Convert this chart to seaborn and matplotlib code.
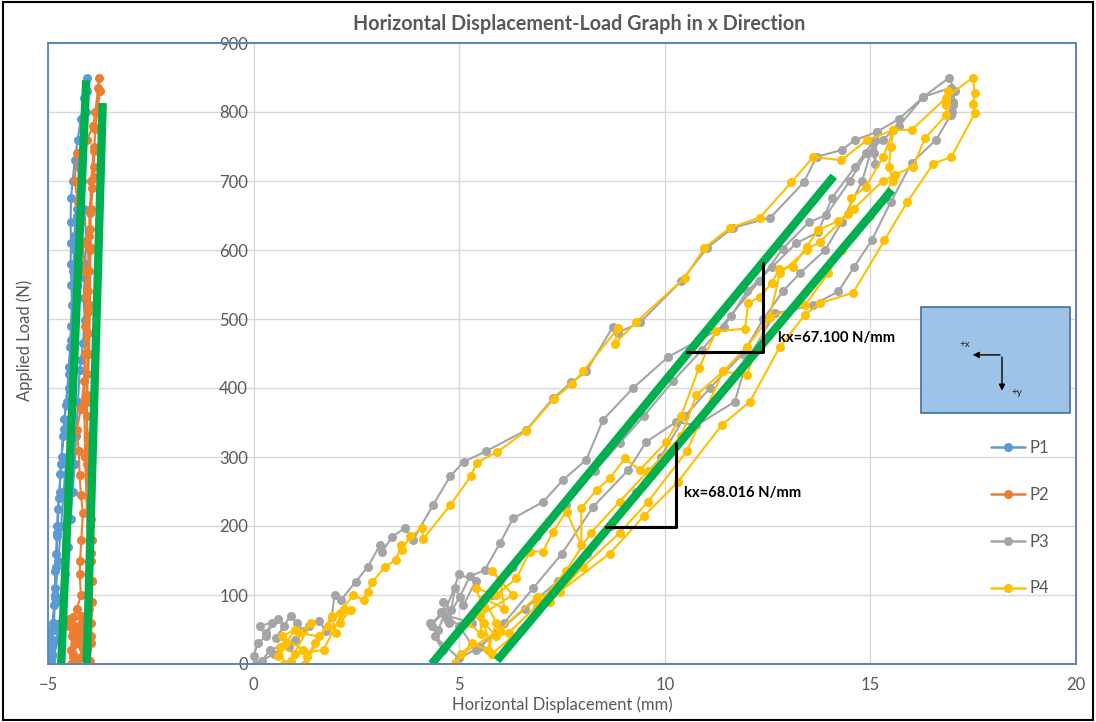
import numpy as np
import pandas as pd
import matplotlib
matplotlib.use("Agg")
import matplotlib.pyplot as plt
import seaborn as sns
from matplotlib.lines import Line2D
from matplotlib.patches import Rectangle

# ---- data (mm, N) ----
p1_x = [-4.93, -4.98, -4.90, -5.00, -4.92, -4.97, -4.88, -4.95,
        -4.95, -4.90, -4.98, -4.88, -4.85, -4.82, -4.83, -4.80, -4.79, -4.78, -4.76, -4.72,
        -4.70, -4.67, -4.63, -4.60, -4.55, -4.50, -4.48, -4.46, -4.44, -4.42, -4.43, -4.45,
        -4.44, -4.45, -4.44, -4.40, -4.35, -4.28, -4.20, -4.12, -4.05,
        -4.05, -4.08, -4.12, -4.20, -4.17, -4.12, -4.06, -4.10, -4.11, -4.13, -4.11, -4.15,
        -4.20, -4.23, -4.27, -4.32, -4.35, -4.40, -4.45, -4.52, -4.58, -4.65, -4.72, -4.80,
        -4.90, -4.95,
        -4.92, -4.86, -4.83, -4.80, -4.77, -4.73, -4.68, -4.62, -4.57, -4.50, -4.45, -4.40,
        -4.38, -4.36, -4.30, -4.25, -4.20, -4.18,
        -4.25, -4.30, -4.35, -4.30, -4.35, -4.40, -4.42, -4.48, -4.55, -4.62, -4.68, -4.75,
        -4.82, -4.88, -4.95, -5.00, -4.92]
p1_y = [8, 5, 25, 12, 35, 50, 30, 3,
        0, 15, 40, 60, 85, 110, 135, 160, 185, 200, 225, 250,
        275, 300, 330, 355, 380, 400, 430, 460, 490, 520, 550, 580,
        610, 640, 675, 700, 730, 760, 790, 820, 850,
        830, 800, 760, 740, 700, 660, 614, 580, 559, 530, 498, 465,
        440, 426, 380, 330, 290, 250, 210, 170, 130, 90, 60, 35,
        12, 2,
        20, 50, 95, 140, 190, 240, 290, 340, 375, 420, 470, 520,
        570, 620, 660, 700, 735, 760,
        720, 650, 600, 550, 500, 450, 400, 350, 300, 250, 200, 150,
        100, 60, 25, 10, 5]

p2_x = [-4.45, -4.30, -4.50, -4.20, -4.35, -4.15, -4.25, -4.40, -4.10, -4.05,
        -4.30, -4.45, -4.40, -4.48, -4.35, -4.25, -4.15, -4.10, -4.00, -3.95, -3.95, -3.93,
        -3.94, -3.95, -3.93, -3.96, -3.98, -4.00, -4.02, -4.03, -4.06, -4.06, -4.05, -4.04,
        -4.03, -4.03, -4.02, -4.00, -3.98, -3.97, -3.95, -3.92, -3.89, -3.87, -3.85, -3.80,
        -3.74, -3.76,
        -3.78, -3.85, -3.90, -4.05, -4.30, -4.35, -4.28, -4.20, -4.15, -4.10, -4.08, -4.10,
        -4.10, -4.12, -4.20, -4.30, -4.25, -4.23, -4.20, -4.15, -4.19, -4.22, -4.23, -4.20,
        -4.30, -4.40, -4.42, -4.38, -4.30,
        -4.20, -4.10, -4.00, -3.93, -3.95, -3.97, -4.00, -4.05, -4.06, -4.00, -3.98, -3.97,
        -3.99, -3.89, -3.89, -3.95, -4.00, -4.05, -4.10, -4.12, -4.10, -4.05, -4.00, -3.95,
        -3.95, -3.98]
p2_y = [0, 30, 55, 70, 40, 10, 50, 10, 65, 30,
        0, 20, 45, 65, 55, 35, 60, 20, 5, 30, 60, 90,
        120, 150, 180, 210, 240, 270, 300, 330, 360, 390, 420, 450,
        480, 510, 540, 570, 600, 630, 660, 690, 720, 750, 775, 800,
        830, 850,
        835, 800, 780, 760, 740, 700, 670, 640, 610, 570, 530, 490,
        450, 410, 370, 339, 308, 274, 245, 219, 180, 150, 131, 100,
        80, 68, 40, 15, 0,
        10, 40, 80, 120, 161, 200, 240, 290, 380, 450, 520, 605,
        653, 706, 744, 700, 620, 540, 450, 380, 300, 220, 150, 90,
        40, 5]

p3_x = [0.05, 0.00, 0.10, 0.30, 0.15, 0.45, 0.30, 0.60, 0.75, 0.55, 0.90, 1.05, 1.20, 1.00,
        0.40, 0.20, 0.50, 0.85, 1.35, 1.60, 1.75, 1.90, 1.97, 2.13, 2.48, 2.78, 3.07, 3.12,
        3.37, 3.67, 3.88, 4.36, 4.78, 5.11, 5.64, 6.63, 7.28, 7.73, 8.09, 8.73, 8.85, 9.40,
        10.40, 11.03, 11.65, 12.57, 13.38, 13.69, 14.30, 14.62, 15.15, 15.70, 16.29, 16.92,
        17.05, 17.00, 16.95,
        16.60, 16.00, 15.50, 15.03, 14.60, 14.22, 13.60, 12.68, 12.00, 11.70, 10.77, 10.28, 9.55,
        9.11, 8.26, 7.50, 6.80, 6.10, 5.50, 5.00,
        4.40, 4.60, 4.35, 4.55, 4.75, 4.90, 5.10, 5.40, 5.00,
        4.49, 4.30, 4.81, 4.60, 4.70, 5.01, 5.26, 5.62, 5.99, 6.31, 7.04, 7.53, 8.09, 8.50,
        9.23, 10.08, 11.44, 12.00, 12.60, 13.20, 13.73, 14.06, 14.62, 15.10, 15.08, 15.12, 15.15,
        14.80, 14.30, 13.90, 13.28, 12.87, 12.40, 11.90, 11.10, 10.50, 9.90, 9.30, 8.70, 8.10,
        7.40, 6.60, 5.90, 5.40, 5.00, 4.70,
        5.30, 5.80, 6.30, 6.90, 7.60, 8.30, 8.90, 9.50, 10.20, 10.90, 11.60, 12.30, 12.87, 13.50,
        13.93, 14.50, 14.90, 15.30, 15.70, 16.29, 16.95, 17.00, 16.98]
p3_y = [0, 12, 30, 40, 55, 60, 45, 65, 55, 38, 70, 60, 48, 35,
        20, 5, 15, 25, 55, 62, 48, 68, 100, 93, 119, 141, 172, 163,
        184, 197, 180, 230, 272, 293, 308, 339, 385, 408, 424, 488, 480, 495,
        555, 603, 632, 647, 698, 735, 745, 759, 771, 790, 822, 850,
        830, 810, 795,
        760, 726, 670, 614, 575, 540, 520, 508, 440, 380, 346, 351, 322,
        281, 228, 160, 110, 60, 25, 8,
        40, 20, 55, 75, 60, 110, 85, 120, 130,
        49, 60, 78, 90, 65, 97, 127, 136, 175, 211, 235, 267, 296, 354,
        400, 445, 489, 540, 575, 610, 626, 675, 720, 760, 740, 725, 771,
        700, 640, 600, 566, 540, 500, 450, 400, 360, 300, 250, 200, 160,
        120, 80, 45, 20, 55, 70,
        60, 100, 140, 185, 230, 280, 320, 360, 410, 455, 505, 555, 602, 640,
        651, 700, 740, 760, 780, 822, 835, 815, 800]

p4_x = [0.59, 0.80, 1.00, 0.70, 1.20, 0.90, 1.40, 1.10, 1.60, 1.30, 1.50, 1.80, 2.00, 1.90,
        1.25, 0.75, 0.65, 1.00, 1.70, 2.20, 2.10, 2.36, 2.09, 2.42, 2.68, 2.77, 2.89, 3.20,
        3.47, 3.58, 3.60, 3.81, 4.10, 4.12, 4.78, 5.28, 5.43, 5.92, 6.63, 7.30, 7.75, 8.01,
        8.87, 8.78, 9.31, 10.49, 10.96, 11.58, 12.31, 13.08, 13.61, 14.29, 14.91, 15.56, 16.00,
        16.85, 17.49, 17.54, 17.50, 17.54,
        16.97, 16.53, 15.90, 15.34, 14.58, 13.77, 13.41, 12.80, 12.07, 11.38, 10.32, 9.50, 8.66,
        7.45, 6.88, 6.00, 5.05, 4.89,
        5.30, 5.70, 5.90, 5.60, 6.10, 6.00, 5.80, 6.30, 5.50,
        5.54, 5.20, 5.58, 5.40, 5.90, 6.39, 6.72, 7.04, 7.28, 7.61, 7.97, 7.97, 8.34, 8.66,
        9.03, 9.39, 10.04, 10.40, 10.83, 11.25, 11.95, 12.03, 12.31, 12.60, 12.78, 13.12, 13.45,
        13.73, 14.22, 14.46, 14.54, 14.89, 15.31, 15.56, 15.50, 15.45, 15.55,
        15.00, 14.30, 13.97, 13.41, 12.55, 11.99, 11.42, 10.53, 9.59, 8.90, 8.00, 7.20, 6.50, 5.80,
        5.60, 5.90, 6.20, 6.90, 7.60, 8.20, 8.90, 9.60, 10.40, 10.77, 11.42, 12.00, 12.55, 12.80,
        13.45, 13.77, 14.60, 15.30, 15.60, 16.04, 16.33, 16.85, 16.85, 16.88, 16.85]
p4_y = [11, 30, 50, 40, 20, 5, 60, 45, 40, 10, 30, 55, 45, 70,
        0, 0, 25, 15, 20, 80, 60, 78, 74, 100, 93, 105, 119, 141,
        151, 172, 165, 185, 197, 181, 230, 272, 292, 307, 338, 384, 406, 424,
        487, 464, 496, 560, 603, 632, 647, 698, 735, 730, 759, 774, 774,
        821, 850, 827, 812, 798,
        735, 725, 670, 614, 538, 523, 506, 460, 380, 346, 264, 215, 160,
        105, 97, 50, 14, 1,
        30, 20, 60, 95, 80, 120, 135, 100, 70,
        44, 60, 83, 110, 100, 124, 163, 163, 192, 221, 172, 226, 252, 269,
        298, 281, 322, 360, 429, 482, 486, 523, 532, 552, 572, 576, 605,
        629, 642, 652, 675, 692, 735, 774, 750, 720, 700,
        650, 600, 566, 520, 503, 419, 424, 308, 235, 190, 140, 90, 50, 15,
        60, 40, 45, 85, 135, 190, 235, 280, 330, 390, 424, 460, 503, 566,
        600, 612, 660, 700, 709, 721, 762, 796, 815, 830, 810]

series_names = ["P1", "P2", "P3", "P4"]
series_colors = ["#5B9BD5", "#ED7D31", "#A5A5A5", "#FFC000"]

# green fitted stiffness lines (start, end)
fit_x = [[-4.68, -4.07], [-4.06, -3.67], [4.33, 14.11], [5.92, 15.52]]
fit_y = [[0, 846], [0, 813], [0, 707], [5, 687]]

# slope triangles
tri1_x = [10.54, 12.39, 12.39]
tri1_y = [452, 452, 581]
tri2_x = [8.56, 10.28, 10.28]
tri2_y = [199, 199, 321]

frames = []
for name, xs, ys in zip(series_names, [p1_x, p2_x, p3_x, p4_x], [p1_y, p2_y, p3_y, p4_y]):
    frames.append(pd.DataFrame({"disp": xs, "load": ys, "series": name}))
df = pd.concat(frames, ignore_index=True)

sns.set_style("white")
plt.rcParams["font.family"] = ["Lato", "DejaVu Sans"]
grey = "#595959"

fig = plt.figure(figsize=(10.96, 7.22), dpi=100)
ax = fig.add_axes([48 / 1096, 58 / 722, 1028 / 1096, 621 / 722])

sns.lineplot(data=df, x="disp", y="load", hue="series", palette=dict(zip(series_names, series_colors)),
             sort=False, estimator=None, marker="o", markersize=6.5, markeredgewidth=0,
             linewidth=1.5, legend=False, ax=ax, zorder=3)

for fx, fy in zip(fit_x, fit_y):
    ax.plot(fx, fy, color="#00B050", linewidth=6, solid_capstyle="butt", zorder=5)

ax.plot(tri1_x, tri1_y, color="black", linewidth=2.2, zorder=6)
ax.plot(tri2_x, tri2_y, color="black", linewidth=2.2, zorder=6)
ax.text(12.75, 472, "kx=67.100 N/mm", fontsize=10.6, fontweight="bold", va="center", color="black", zorder=7)
ax.text(10.46, 248, "kx=68.016 N/mm", fontsize=10.6, fontweight="bold", va="center", color="black", zorder=7)

# orientation sketch box
ax.add_patch(Rectangle((16.23, 364), 3.62, 153, facecolor="#9DC3E6", edgecolor="#41719C",
                       linewidth=1.2, zorder=6))
ax.annotate("", xy=(17.42, 448), xytext=(18.22, 448),
            arrowprops=dict(arrowstyle="-|>", color="black", lw=1, mutation_scale=9), zorder=7)
ax.annotate("", xy=(18.2, 392), xytext=(18.2, 449),
            arrowprops=dict(arrowstyle="-|>", color="black", lw=1, mutation_scale=9), zorder=7)
ax.text(17.3, 463, "+x", fontsize=7, ha="center", va="center", zorder=8)
ax.text(18.55, 393, "+y", fontsize=7, ha="center", va="center", zorder=8)

ax.set_xlim(-5, 20)
ax.set_ylim(0, 900)
ax.set_xticks(np.arange(-5, 21, 5))
ax.set_yticks(np.arange(0, 901, 100))
ax.grid(True, color="#D9D9D9", linewidth=1)
ax.set_axisbelow(True)

for s in ["top", "right", "bottom"]:
    ax.spines[s].set_color("#5A86B5")
    ax.spines[s].set_linewidth(1.3)
ax.spines["left"].set_position(("data", 0))
ax.spines["left"].set_visible(False)
ax.add_patch(Rectangle((0, 0), 1, 1, transform=ax.transAxes, fill=False,
                       edgecolor="#5A86B5", linewidth=1.3, zorder=10, clip_on=False))
ax.tick_params(axis="both", length=0, labelsize=12, labelcolor=grey, pad=9)
ax.tick_params(axis="y", pad=4)
ax.set_xlabel("Horizontal Displacement (mm)", fontsize=12, color=grey, labelpad=3)
ax.set_ylabel("")
fig.text(25 / 1096, 1 - 340 / 722, "Applied Load (N)", rotation=90, fontsize=12,
         color=grey, ha="center", va="center")

handles = [Line2D([0], [0], color=c, marker="o", markersize=6.5, markeredgewidth=0, linewidth=1.8)
           for c in series_colors]
ax.legend(handles, series_names, loc="upper left", bbox_to_anchor=(0.903, 0.385), frameon=False,
          fontsize=12, labelcolor=grey, labelspacing=1.85, handlelength=2.0, handletextpad=0.3)

fig.text(579 / 1096, 1 - 24 / 722, "Horizontal Displacement-Load Graph in x Direction",
         fontsize=14.2, fontweight="bold", color=grey, ha="center", va="center")

fig.patches.append(Rectangle((0.003, 0.003), 0.994, 0.994, transform=fig.transFigure,
                             fill=False, edgecolor="black", linewidth=1.5))

fig.savefig("out.png", dpi=100)
